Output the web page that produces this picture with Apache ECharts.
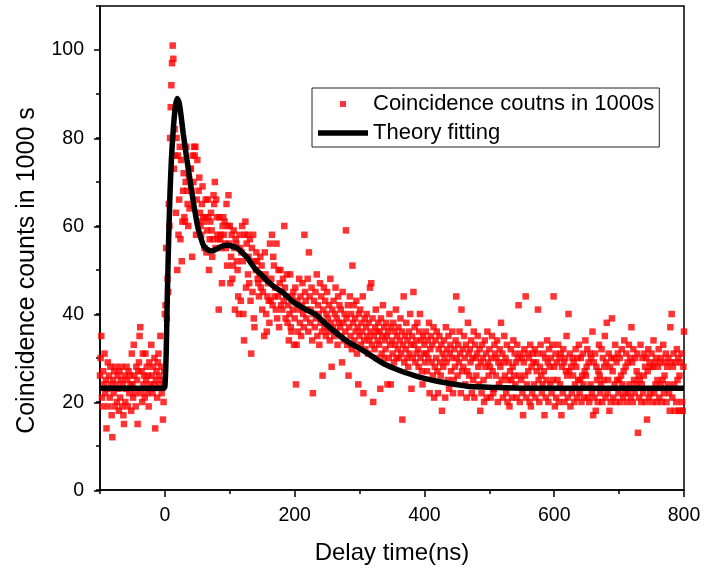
<!DOCTYPE html>
<html>
<head>
<meta charset="utf-8">
<script src="https://cdn.jsdelivr.net/npm/echarts@6/dist/echarts.min.js"></script>
<style>html,body{margin:0;padding:0;background:#fff}#c{width:714px;height:570px}</style>
</head>
<body>
<div id="c"></div>
<script>
// First delay bin (ns); bins are 1 ns wide
const delayStart = -100;

// Coincidence counts per 1 ns bin
const countsPre = [ // -100 .. -1 ns
26,30,35,21,19,27,24,31,22,25,
14,23,29,19,26,21,28,24,17,12,
25,22,27,19,28,24,20,26,23,18,
27,21,25,28,19,24,17,15,26,20,
23,28,25,19,27,22,26,24,18,31,
24,21,33,26,22,19,28,25,15,27,
29,35,37,22,27,20,31,24,26,21,
31,25,28,22,26,19,29,24,23,33,
26,22,28,24,30,14,25,27,21,29,
31,26,24,35,28,22,25,16,20,27
];
const countsPeak = [ // 0 .. 199 ns
40,42,55,39,48,45,65,60,80,87,
92,97,101,98,73,82,76,63,80,50,
76,58,66,78,57,75,52,61,68,72,
62,61,70,78,68,65,60,71,64,73,
73,68,53,76,70,78,76,78,58,66,
75,61,68,71,63,60,58,65,69,62,
61,55,62,66,54,59,66,62,50,57,
61,63,59,53,57,67,65,70,55,66,
62,58,57,41,62,57,58,55,47,60,
62,58,61,56,55,65,51,60,67,56,
60,47,53,58,48,51,59,55,41,57,
56,52,50,44,40,58,55,43,54,60,
52,40,34,58,61,46,56,58,49,53,
47,57,43,31,55,45,58,39,37,52,
50,54,52,48,47,44,49,53,46,51,
41,45,48,35,54,49,40,36,44,47,
43,38,56,43,48,58,42,53,51,44,
46,41,56,39,44,50,37,47,50,42,
45,41,48,43,60,46,39,44,49,38,
42,34,40,49,37,36,44,41,45,33
];
const countsMid = [ // 200 .. 499 ns
39,46,24,33,43,36,41,48,38,44,
35,42,47,40,37,58,45,43,39,41,
48,36,54,44,38,41,46,34,22,40,
43,37,45,39,49,35,42,40,33,47,
38,44,36,26,41,46,37,43,35,40,
45,39,36,42,34,48,38,28,41,37,
43,35,40,46,36,39,33,44,38,42,
37,41,35,29,45,38,34,40,36,59,
39,33,42,26,37,44,35,40,32,51,
38,42,34,39,36,43,31,37,24,40,
35,41,33,38,36,44,22,34,39,32,
37,40,35,31,38,34,46,36,47,33,
39,20,35,32,37,41,30,36,34,38,
33,36,23,39,31,35,42,30,37,34,
32,38,35,24,36,30,40,33,24,37,
34,31,38,29,36,33,41,30,35,32,
37,30,34,39,31,36,16,33,44,29,
35,32,38,30,34,28,36,31,40,33,
23,35,30,45,33,37,29,34,31,38,
32,28,36,40,30,34,27,24,35,31,
33,29,36,31,27,34,30,38,22,32,
35,29,33,26,37,21,28,34,30,36,
27,22,32,35,29,26,33,18,31,28,
34,30,21,37,29,32,25,35,23,31,
33,27,30,36,22,25,32,28,34,44,
30,26,33,29,36,31,22,41,27,32,
28,35,30,24,33,21,27,38,31,26,
32,29,34,22,30,25,36,21,33,30,
26,31,35,28,24,32,18,29,22,33,
30,25,20,34,28,31,21,36,29,26
];
const countsTail = [ // 500 .. 800 ns
32,28,21,30,35,27,22,23,33,31,
26,30,34,20,29,24,32,28,38,25,
31,21,29,35,26,30,22,33,20,25,
29,19,27,32,25,21,28,34,26,31,
24,29,21,33,30,42,26,20,31,25,
30,22,17,29,32,26,44,21,24,31,
27,30,20,33,19,28,22,31,29,24,
32,21,29,27,31,41,25,20,28,33,
26,22,24,31,27,17,30,21,25,34,
29,20,32,28,24,30,22,33,25,44,
28,19,31,21,29,25,33,20,30,24,
31,17,28,22,32,29,20,30,27,35,
26,21,40,27,31,19,28,22,30,26,
29,20,24,32,28,21,30,25,33,22,
25,30,20,26,31,24,21,27,34,26,
28,32,21,29,20,31,24,30,22,36,
17,29,21,31,18,28,25,20,27,33,
26,22,24,32,20,30,25,28,35,21,
29,38,22,25,31,18,28,20,30,39,
27,21,30,24,33,20,29,25,31,22,
25,30,20,26,32,24,21,27,34,22,
28,31,20,29,22,33,24,30,21,37,
29,20,32,25,22,30,24,27,31,13,
26,21,25,33,20,24,30,22,26,31,
28,20,30,16,27,32,21,29,22,28,
31,20,28,34,22,29,24,30,20,25,
28,32,21,29,24,30,20,25,33,22,
26,29,31,20,28,24,30,22,18,37,
29,40,21,28,31,24,18,29,20,32,
25,30,18,26,18,29,31,20,18,28,
36
];

// Theory fitting curve
const fitX = [-100,-2,0,2,3.6,6,8,10,12,14,16.5,19,22,25,28.3,34,39.6,45,51,56,60,66,73,80,88,96,104,111,119,127,134,140,148,158,170,181,199,215,233,251,270,284,302,320,336,354,370,387,405,420,439,457,470,508,560,800];
const fitY = [23.1,23.1,23.5,31,43,58,68,75,80,84,87.5,89,88,85,81,75,69.5,64.5,59.6,57,55.4,54.6,54.3,54.8,55.4,55.6,55.4,55,54,52.8,51.3,50.1,49,47.5,46,45,42.6,41.2,39.8,37.3,35,33.5,32,30.3,28.8,27.6,26.7,25.9,25.2,24.7,24.2,23.8,23.5,23.3,23.1,23.1];

const xMajorTicks = [0, 800, 200];   // first, last, step of labelled ticks
const yMajorTicks = [0, 100, 20];

const counts = [].concat(countsPre, countsPeak, countsMid, countsTail);
const scatterData = counts.map((c, i) => [delayStart + i, c]);
const fitData = fitX.map((x, i) => [x, fitY[i]]);

const FONT = "'Liberation Sans', Arial, sans-serif";
const W = 714, H = 570;
const gL = 100, gR = 30, gT = 6, gB = 79;
const xMin = -100, xMax = 800, yMin = 0, yMax = 110;
const pw = W - gL - gR, ph = H - gT - gB;
const gxLeft = gL + (xMajorTicks[0] - xMin) / (xMax - xMin) * pw;
const gyTop = gT + (yMax - yMajorTicks[1]) / (yMax - yMin) * ph;

const chart = echarts.init(document.getElementById('c'), null, {renderer: 'canvas'});
const black = '#000';
const tickStyle = {color: black, width: 1.5};
chart.setOption({
  animation: false,
  backgroundColor: '#fff',
  textStyle: {fontFamily: FONT},
  grid: [
    {left: gL, right: gR, top: gT, bottom: gB, show: true, borderColor: black, borderWidth: 1.5, backgroundColor: 'transparent'},
    {left: gxLeft, right: gR, top: gT, bottom: gB},
    {left: gL, right: gR, top: gyTop, bottom: gB}
  ],
  xAxis: [
    {gridIndex: 0, type: 'value', min: xMin, max: xMax, interval: 100,
     axisLine: {show: true, onZero: false, lineStyle: tickStyle},
     axisTick: {show: true, inside: false, length: 4, lineStyle: tickStyle},
     axisLabel: {show: false}, splitLine: {show: false},
     name: 'Delay time(ns)', nameLocation: 'middle', nameGap: 51,
     nameTextStyle: {fontSize: 24, color: black, fontFamily: FONT}},
    {gridIndex: 1, type: 'value', min: xMajorTicks[0], max: xMajorTicks[1], interval: xMajorTicks[2],
     axisLine: {show: false, onZero: false},
     axisTick: {show: true, inside: false, length: 6, lineStyle: tickStyle},
     axisLabel: {show: true, fontSize: 19.5, color: black, margin: 15, fontFamily: FONT},
     splitLine: {show: false}},
    {gridIndex: 2, type: 'value', show: false, min: xMin, max: xMax}
  ],
  yAxis: [
    {gridIndex: 0, type: 'value', min: yMin, max: yMax, interval: 10,
     axisLine: {show: true, onZero: false, lineStyle: tickStyle},
     axisTick: {show: true, inside: false, length: 4, lineStyle: tickStyle},
     axisLabel: {show: false}, splitLine: {show: false}},
    {gridIndex: 1, type: 'value', show: false, min: yMin, max: yMax},
    {gridIndex: 2, type: 'value', min: yMajorTicks[0], max: yMajorTicks[1], interval: yMajorTicks[2],
     axisLine: {show: false, onZero: false},
     axisTick: {show: true, inside: false, length: 6, lineStyle: tickStyle},
     axisLabel: {show: true, fontSize: 19.5, color: black, margin: 16, fontFamily: FONT},
     splitLine: {show: false},
     name: 'Coincidence counts in 1000 s', nameLocation: 'middle', nameGap: 60, nameRotate: 90,
     nameTextStyle: {fontSize: 25, color: black, fontFamily: FONT}}
  ],
  legend: {
    orient: 'vertical', left: 312, top: 88,
    borderColor: '#222', borderWidth: 1, padding: [5, 5, 3, 6],
    itemWidth: 50, itemHeight: 6, itemGap: 7,
    textStyle: {fontSize: 22, color: black, fontFamily: FONT},
    data: [
      {name: 'Coincidence coutns in 1000s', icon: 'path://M0 0H10V10H0Z'},
      {name: 'Theory fitting', icon: 'path://M0 0H50V5.5H0Z'}
    ]
  },
  series: [
    {name: 'Coincidence coutns in 1000s', type: 'scatter', xAxisIndex: 0, yAxisIndex: 0,
     symbol: 'rect', symbolSize: 6.5, itemStyle: {color: '#ff0000'},
     data: scatterData, z: 2, silent: true},
    {name: 'Theory fitting', type: 'line', xAxisIndex: 0, yAxisIndex: 0,
     data: fitData, showSymbol: false, symbol: 'none', smooth: 0.2,
     lineStyle: {color: black, width: 5.5}, itemStyle: {color: black}, z: 3, silent: true}
  ]
});
</script>
</body>
</html>
